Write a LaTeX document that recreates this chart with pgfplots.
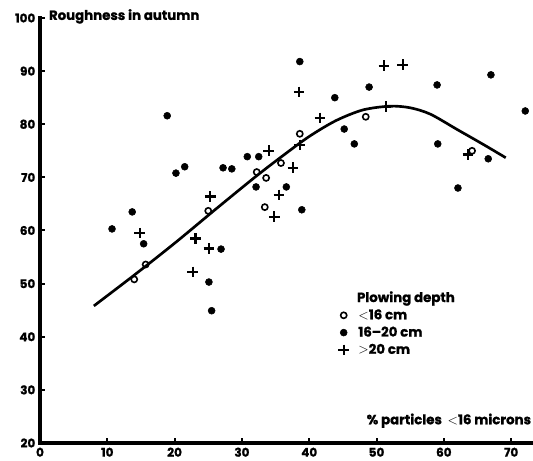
\documentclass[border=0pt]{standalone}
\usepackage{pgfplots}
\pgfplotsset{compat=1.18}
\usepackage{fontspec}
\setmainfont{Poppins}[BoldFeatures={FakeBold=1.2}]
\begin{document}
\begin{tikzpicture}[font=\bfseries\fontsize{10}{11}\selectfont]
\begin{axis}[
    at={(30pt,13.5pt)}, anchor=south west,
    scale only axis,
    width=369.75pt, height=318.75pt,
    xmin=0, xmax=73.25,
    ymin=20, ymax=100,
    xtick={0,10,...,70},
    ytick={20,30,...,100},
    axis x line=bottom, axis y line=left,
    axis line style={-, line width=3pt},
    tick align=inside,
    major tick length=4pt,
    tick style={line width=1.5pt, black},
    /pgf/number format/assume math mode=true,
    ticklabel style={font=\bfseries\fontsize{9}{10}\selectfont},
    clip=false,
    legend style={draw=none, fill=none, at={(axis cs:42.8,49.6)}, anchor=north west,
        row sep=0pt, font=\bfseries\fontsize{10}{11}\selectfont},
    legend cell align=left,
]
% fitted curve
\addplot[smooth, line width=2pt, forget plot] coordinates {
 (8,45.8) (14,51.6) (20,57.6) (26,63.9) (32,70.1) (36,74.0) (40,77.7)
 (44,80.7) (48,82.7) (52,83.4) (55,83.1) (58,81.9) (62,79.0) (66,76.1) (69.2,73.7)};
\addlegendimage{empty legend}
\addlegendentry{\hspace{4pt}Plowing depth\rule[-4pt]{0pt}{4pt}}
% < 16 cm : open circles
\addplot[only marks, mark=o, mark size=2.3pt, line width=1.2pt] coordinates {
 (14.0,50.8) (15.7,53.6) (25.0,63.7) (32.2,71.0) (33.4,64.4) (33.6,69.9)
 (35.8,72.7) (38.6,78.2) (48.4,81.4) (64.2,75.0)};
\addlegendentry{\hspace{5pt}$<$16 cm}
% 16-20 cm : filled dots
\addplot[only marks, mark=*, mark size=2.6pt] coordinates {
 (10.7,60.3) (13.7,63.5) (15.4,57.5) (18.9,81.6) (20.2,70.8) (21.5,72.0)
 (26.9,56.5) (25.1,50.3) (25.5,44.9) (27.2,71.8) (28.5,71.6) (30.8,73.9)
 (32.5,73.9) (32.1,68.2) (36.6,68.2) (38.6,91.8) (38.9,63.9) (43.8,85.0)
 (45.2,79.1) (46.7,76.3) (48.9,87.0) (59.0,87.4) (59.1,76.3) (62.1,68.0)
 (67.0,89.3) (66.6,73.5) (72.1,82.5)};
\addlegendentry{\hspace{5pt}16--20 cm}
% > 20 cm : plus
\addplot[only marks, mark=+, mark size=4pt, line width=1.6pt] coordinates {
 (14.8,59.5) (22.7,52.2) (23.1,58.5) (25.1,56.6) (25.3,66.4) (34.0,75.0)
 (34.8,62.6) (35.5,66.7) (37.6,71.8) (38.6,76.1) (38.5,86.1) (41.6,81.2)
 (51.1,91.0) (53.9,91.2) (51.4,83.3) (63.6,74.3)};
\addlegendentry{\hspace{5pt}$>$20 cm}
\node[anchor=west, inner sep=0pt] at (axis cs:1.3,100.3) {Roughness in autumn};
\node[anchor=east, inner sep=0pt] at (axis cs:73.0,24.2) {\% particles \ $<$16 microns};
\end{axis}
\draw[line width=3pt, line cap=rect] (30pt,332.25pt) -- (30pt,13.5pt) -- (399.75pt,13.5pt);
\pgfresetboundingbox
\path (0,0) rectangle (399.75pt,345.75pt);
\end{tikzpicture}
\end{document}
